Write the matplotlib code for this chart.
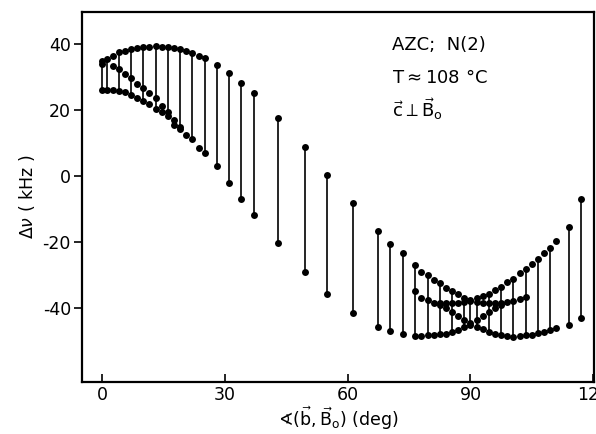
import numpy as np
import matplotlib
matplotlib.use('Agg')
import matplotlib.pyplot as plt

plt.rcParams['axes.unicode_minus'] = False

# upper branch (deg, kHz)
top_deg = [0, 1, 2.5, 4, 5.5, 7, 8.5, 10, 11.5, 13, 14.5, 16, 17.5, 19, 20.5, 22, 23.5, 25,
           28, 31, 34, 37, 43, 49.5, 55, 61.3, 67.3, 70.4, 73.4,
           76.5, 78, 79.5, 81, 82.5, 84, 85.5, 87, 88.5, 90, 91.5, 93, 94.5, 96, 97.5, 99,
           100.5, 102, 103.5, 105, 106.5, 108, 109.5, 111, 114, 117]
top_khz = [34.8, 35.5, 36.5, 37.5, 38.0, 38.4, 38.9, 39.1, 39.2, 39.3, 39.2, 39.1, 38.7, 38.4,
           37.9, 37.2, 36.5, 35.9, 33.6, 31.1, 28.1, 25.1, 17.7, 8.8, 0.2, -8.3, -16.6, -20.6, -23.4,
           -27.0, -29.0, -30.0, -31.5, -32.5, -34.0, -34.8, -35.8, -36.8, -37.6, -37.0, -36.4,
           -35.6, -34.5, -33.5, -32.1, -31.3, -29.5, -28.3, -26.8, -25.2, -23.4, -21.9, -19.7,
           -15.4, -7.0]

# lower branch
bot_deg = [0, 1, 2.5, 4, 5.5, 7, 8.5, 10, 11.5, 13, 14.5, 16, 17.5, 19, 20.5, 22, 23.5, 25,
           28, 31, 34, 37, 43, 49.5, 55, 61.3, 67.3, 70.4, 73.4,
           76.5, 78, 79.5, 81, 82.5, 84, 85.5, 87, 88.5, 90, 91.5, 93, 94.5, 96, 97.5, 99,
           100.5, 102, 103.5, 105, 106.5, 108, 109.5, 111, 114, 117]
bot_khz = [26.1, 26.1, 26.1, 25.8, 25.5, 24.5, 23.5, 22.6, 21.8, 20.2, 19.4, 18.2, 15.5, 14.1,
           12.4, 11.1, 8.6, 7.1, 3.1, -2.0, -7.0, -11.8, -20.4, -29.2, -35.8, -41.6, -45.7, -46.9,
           -47.9, -48.4, -48.4, -48.3, -48.2, -48.0, -47.8, -47.2, -46.5, -45.7, -45.2, -45.7,
           -46.4, -47.2, -47.8, -48.3, -48.6, -48.7, -48.6, -48.3, -48.1, -47.6, -47.1, -46.6,
           -46.1, -45.2, -43.1]

# inner lines, first doublet
in1_deg = [0, 2.5, 4, 5.5, 7, 8.5, 10, 11.5, 13, 14.5, 16, 17.5, 19,
           76.5, 78, 79.5, 81, 82.5, 84, 85.5, 87, 88.5, 90, 91.5, 93, 94.5, 96, 97.5, 99,
           100.5, 102, 103.5]
in1_khz = [34.0, 33.3, 32.4, 30.8, 29.8, 27.8, 26.6, 25.1, 23.5, 21.2, 19.5, 17.0, 14.9,
           -34.8, -36.8, -37.6, -38.4, -38.6, -38.6, -38.6, -38.5, -38.3, -38.0, -38.3, -38.5,
           -38.6, -38.6, -38.4, -38.2, -37.8, -37.3, -36.6]

# inner lines, second doublet (crossing near 90 deg)
in2_deg = [82.5, 84, 85.5, 87, 88.5, 90, 91.5, 93, 94.5, 96, 97.5]
in2_khz = [-39.2, -40.1, -41.1, -42.3, -43.6, -44.5, -43.6, -42.3, -41.1, -40.1, -39.2]

# angles where the spectrum was joined by a bar
bar_deg = [0, 1, 4, 7, 10, 13, 16, 19, 22, 25, 28, 31, 34, 37, 43, 49.5, 55, 61.3, 67.3,
           70.4, 73.4, 76.5, 79.5, 82.5, 85.5, 88.5, 90, 91.5, 94.5, 97.5, 100.5, 103.5,
           106.5, 109.5, 114, 117]

all_deg = np.concatenate([top_deg, bot_deg, in1_deg, in2_deg])
all_khz = np.concatenate([top_khz, bot_khz, in1_khz, in2_khz])

fig = plt.figure(figsize=(5.96, 4.34), dpi=100)
ax = fig.add_axes([0.1376, 0.1198, 0.859, 0.8526])

for a in bar_deg:
    v = all_khz[np.isclose(all_deg, a)]
    ax.vlines(a, v.min(), v.max(), color='black', lw=1.2)

ax.plot(all_deg, all_khz, 'o', color='black', ms=5, mew=0)

ax.set_xlim(-5, 120.2)
ax.set_ylim(-62.4, 49.7)
ax.set_xticks([0, 30, 60, 90, 120])
ax.set_yticks([-40, -20, 0, 20, 40])
ax.tick_params(axis='x', direction='in', length=6, width=1.2, labelsize=12.5, pad=3)
ax.tick_params(axis='y', direction='out', length=6, width=1.2, labelsize=12.5, pad=2)
for s in ax.spines.values():
    s.set_linewidth(1.6)

ax.set_ylabel(r'$\Delta\nu$ ( kHz )', fontsize=12.5, labelpad=4)
ax.set_xlabel(r'$\sphericalangle(\vec{\mathrm{b}},\vec{\mathrm{B}}_\mathrm{o})$ (deg)',
              fontsize=12.5, labelpad=0)

ax.text(70.7, 39.7, 'AZC;  N(2)', fontsize=13, va='center')
ax.text(70.7, 29.7, r'T$\approx$108 °C', fontsize=13, va='center')
ax.text(70.7, 20.4, r'$\vec{\mathrm{c}}\perp\vec{\mathrm{B}}_\mathrm{o}$', fontsize=13, va='center')

fig.savefig('out.png', dpi=100)
